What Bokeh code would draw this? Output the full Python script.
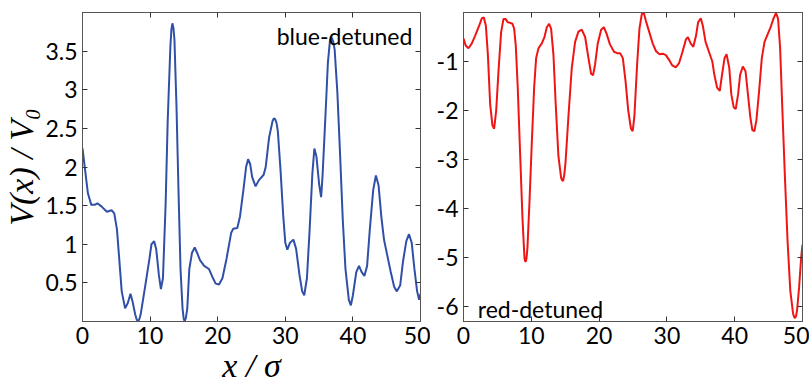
from bokeh.plotting import figure
from bokeh.layouts import row
from bokeh.models import LinearAxis, Label, FixedTicker, Range1d
from bokeh.embed import file_html
from bokeh.resources import INLINE

# ---- data ----
blue_x = [0, 0.4, 0.8, 1.3, 1.8, 2.2, 2.8, 3.6, 4.3, 4.7, 5.1, 5.4, 5.8, 6.3, 6.7, 7.1, 7.4, 7.8,
          8.0, 8.2, 8.4, 8.6, 9.3, 9.9, 10.2, 10.6, 10.9, 11.3, 11.6, 11.9, 12.3, 12.6, 13.0,
          13.15, 13.3, 13.45, 13.6, 13.9, 14.2, 14.5, 14.8, 14.95, 15.1, 15.3, 15.5, 15.8, 16.2,
          16.6, 16.9, 17.4, 18.0, 18.7, 19.2, 19.7, 20.2, 20.7, 21.3, 22.0, 22.3, 22.9, 23.3,
          23.8, 24.2, 24.5, 24.8, 25.1, 25.6, 26.1, 26.8, 27.1, 27.6, 28.1, 28.3, 28.5, 28.7,
          28.9, 29.3, 29.7, 30.0, 30.3, 30.7, 31.2, 31.6, 32.1, 32.5, 32.8, 33.2, 33.6, 34.0,
          34.3, 34.6, 35.0, 35.3, 35.5, 35.9, 36.3, 36.6, 36.75, 36.9, 37.1, 37.3, 37.7, 38.1,
          38.5, 38.9, 39.4, 39.7, 40.0, 40.5, 40.9, 41.3, 41.7, 42.1, 42.5, 43.0, 43.4, 43.8,
          44.2, 44.6, 45.1, 45.6, 46.1, 46.5, 47.0, 47.4, 47.9, 48.3, 48.7, 49.1, 49.5, 49.8,
          50.0]
blue_y = [2.24, 1.95, 1.66, 1.51, 1.51, 1.53, 1.49, 1.42, 1.44, 1.40, 1.19, 0.85, 0.39, 0.17, 0.24,
          0.36, 0.26, 0.09, 0.03, 0.0, 0.03, 0.09, 0.47, 0.81, 1.0, 1.04, 0.94, 0.60, 0.42, 0.56,
          1.53, 2.59, 3.56, 3.78, 3.86, 3.80, 3.65, 2.80, 1.70, 0.68, 0.17, 0.05, 0.0, 0.05, 0.17,
          0.68, 0.89, 0.96, 0.90, 0.79, 0.72, 0.68, 0.58, 0.49, 0.48, 0.56, 0.81, 1.15, 1.20,
          1.21, 1.36, 1.70, 2.00, 2.10, 2.04, 1.87, 1.75, 1.83, 1.90, 2.00, 2.38, 2.59, 2.63,
          2.62, 2.57, 2.46, 1.95, 1.36, 1.02, 0.93, 1.02, 1.06, 0.94, 0.60, 0.39, 0.34, 0.56,
          1.19, 1.91, 2.24, 2.14, 1.78, 1.61, 1.87, 2.59, 3.35, 3.63, 3.67, 3.67, 3.62, 3.52,
          2.97, 2.17, 1.32, 0.68, 0.28, 0.21, 0.34, 0.64, 0.72, 0.64, 0.59, 0.72, 1.19, 1.70,
          1.89, 1.76, 1.36, 1.06, 0.85, 0.64, 0.45, 0.39, 0.47, 0.77, 1.04, 1.13, 1.02, 0.68,
          0.39, 0.28, 0.36]

red_x = [0, 0.34, 0.74, 1.23, 1.72, 2.31, 2.7, 3.0, 3.3, 3.6, 3.93, 4.27, 4.52, 4.82, 5.16, 5.55,
         5.9, 6.19, 6.54, 6.88, 7.22, 7.47, 7.71, 8.0, 8.35, 8.7, 8.99, 9.09, 9.19, 9.3, 9.43,
         9.73, 10.07, 10.42, 10.71, 11.06, 11.55, 11.94, 12.29, 12.63, 12.92, 13.27, 13.6, 14.0,
         14.4, 14.55, 14.7, 14.87, 15.04, 15.5, 15.97, 16.46, 16.95, 17.44, 17.94, 18.43, 18.82,
         19.1, 19.4, 19.8, 20.3, 20.7, 21.1, 21.6, 22.2, 22.65, 23.1, 23.5, 23.9, 24.3, 24.7,
         24.95, 25.2, 25.6, 25.95, 26.3, 26.6, 26.9, 27.4, 27.9, 28.4, 28.9, 29.4, 29.85, 30.34,
         30.8, 31.3, 31.8, 32.3, 32.8, 33.1, 33.5, 33.9, 34.3, 34.6, 35.0, 35.3, 35.7, 36.2,
         36.7, 37.0, 37.4, 37.8, 38.1, 38.5, 38.8, 39.2, 39.5, 39.85, 40.15, 40.5, 40.8, 41.2,
         41.6, 41.9, 42.3, 42.6, 42.9, 43.2, 43.6, 44.0, 44.4, 44.9, 45.3, 45.7, 46.1, 46.4,
         46.7, 47.0, 47.4, 47.8, 48.2, 48.6, 48.75, 48.9, 49.05, 49.2, 49.5, 49.8, 50.0]
red_y = [-0.53, -0.68, -0.73, -0.63, -0.47, -0.27, -0.12, -0.10, -0.27, -0.87, -1.87, -2.30,
         -2.37, -2.0, -1.2, -0.4, -0.13, -0.13, -0.2, -0.21, -0.23, -0.33, -0.67, -1.53, -2.87,
         -4.2, -5.0, -5.07, -5.08, -5.0, -4.8, -3.87, -2.67, -1.53, -0.93, -0.73, -0.63, -0.5,
         -0.3, -0.23, -0.33, -0.87, -1.87, -2.93, -3.37, -3.42, -3.43, -3.3, -3.07, -2.07, -1.13,
         -0.6, -0.39, -0.35, -0.5, -0.93, -1.25, -1.28, -1.07, -0.63, -0.35, -0.3, -0.43, -0.65,
         -0.8, -0.83, -0.83, -0.93, -1.4, -2.0, -2.37, -2.42, -2.13, -1.07, -0.33, -0.03, -0.01,
         -0.17, -0.4, -0.63, -0.79, -0.85, -0.84, -0.87, -0.97, -1.08, -1.12, -1.03, -0.8,
         -0.55, -0.5, -0.63, -0.7, -0.47, -0.2, -0.12, -0.27, -0.6, -0.8, -1.0, -1.27, -1.53,
         -1.6, -1.3, -0.93, -0.85, -1.13, -1.67, -1.93, -1.97, -1.67, -1.27, -1.1, -1.2, -1.6,
         -2.13, -2.4, -2.42, -2.2, -1.6, -0.93, -0.6, -0.43, -0.3, -0.13, -0.01, -0.13, -0.73,
         -1.87, -3.33, -4.67, -5.67, -6.13, -6.2, -6.23, -6.19, -6.07, -5.6, -5.0, -4.73]

x_ticks = [0, 10, 20, 30, 40, 50]
x_tick_labels = ["0", "10", "20", "30", "40", "50"]
blue_ticks = [0.5, 1, 1.5, 2, 2.5, 3, 3.5]
blue_tick_labels = ["0.5", "1", "1.5", "2", "2.5", "3", "3.5"]
red_ticks = [-1, -2, -3, -4, -5, -6]
red_tick_labels = ["-1", "-2", "-3", "-4", "-5", "-6"]

TICK_FONT = "Lato"
TICK_SIZE = "23px"
FRAME_COL = "#555555"


def style(p, xt, xl, yt, yl):
    bottom = p.below[0]
    left = p.left[0]
    bottom.ticker = FixedTicker(ticks=xt)
    bottom.major_label_overrides = dict(zip(xt, xl))
    left.ticker = FixedTicker(ticks=yt)
    left.major_label_overrides = dict(zip(yt, yl))
    for ax in (bottom, left):
        ax.major_label_text_font = TICK_FONT
        ax.major_label_text_font_size = TICK_SIZE
        ax.major_label_text_color = "black"
        ax.major_tick_in = 5
        ax.major_tick_out = 0
        ax.minor_tick_line_color = None
        ax.axis_line_color = FRAME_COL
        ax.major_tick_line_color = "#333333"
    bottom.major_label_standoff = 5
    left.major_label_standoff = 5
    # mirrored ticks (no labels) on top and right
    top = LinearAxis(ticker=FixedTicker(ticks=xt), major_label_text_font_size="1px",
                     major_label_text_color=None, major_label_standoff=0,
                     major_tick_in=5, major_tick_out=0,
                     minor_tick_line_color=None, axis_line_color=FRAME_COL,
                     major_tick_line_color="#333333")
    right = LinearAxis(ticker=FixedTicker(ticks=yt), major_label_text_font_size="1px",
                       major_label_text_color=None, major_label_standoff=0,
                       major_tick_in=5, major_tick_out=0,
                       minor_tick_line_color=None, axis_line_color=FRAME_COL,
                       major_tick_line_color="#333333")
    p.add_layout(top, "above")
    p.add_layout(right, "right")
    p.xgrid.grid_line_color = None
    p.ygrid.grid_line_color = None
    p.outline_line_color = FRAME_COL
    p.outline_line_width = 1
    return bottom, left


p1 = figure(width=430, height=386, output_backend="svg", toolbar_location=None,
            x_range=Range1d(0, 50), y_range=Range1d(0, 4.0),
            min_border_left=82, min_border_right=10, min_border_top=10, min_border_bottom=61)
p1.line(blue_x, blue_y, line_color="#3050a8", line_width=2)
b1, l1 = style(p1, x_ticks, x_tick_labels, blue_ticks, blue_tick_labels)
b1.axis_label = "x / σ"
l1.axis_label = "V(x) / V₀"
for ax in (b1, l1):
    ax.axis_label_text_font = "Liberation Serif"
    ax.axis_label_text_font_style = "italic"
    ax.axis_label_text_font_size = "34px"
    ax.axis_label_text_color = "black"
b1.axis_label_standoff = 0
l1.axis_label_standoff = 2
p1.add_layout(Label(x=48.8, y=3.70, text="blue-detuned", text_align="right",
                    text_baseline="alphabetic", text_font=TICK_FONT,
                    text_font_size="23px", text_color="black"))

p2 = figure(width=379, height=386, output_backend="svg", toolbar_location=None,
            x_range=Range1d(0, 50), y_range=Range1d(-6.3, 0),
            min_border_left=33, min_border_right=7, min_border_top=12, min_border_bottom=60)
p2.line(red_x, red_y, line_color="#f01515", line_width=2)
style(p2, x_ticks, x_tick_labels, red_ticks, red_tick_labels)
p2.add_layout(Label(x=2.1, y=-6.05, text="red-detuned", text_align="left",
                    text_baseline="alphabetic", text_font=TICK_FONT,
                    text_font_size="23px", text_color="black"))

layout = row(p1, p2)
open("out.html", "w").write(file_html(layout, INLINE))
